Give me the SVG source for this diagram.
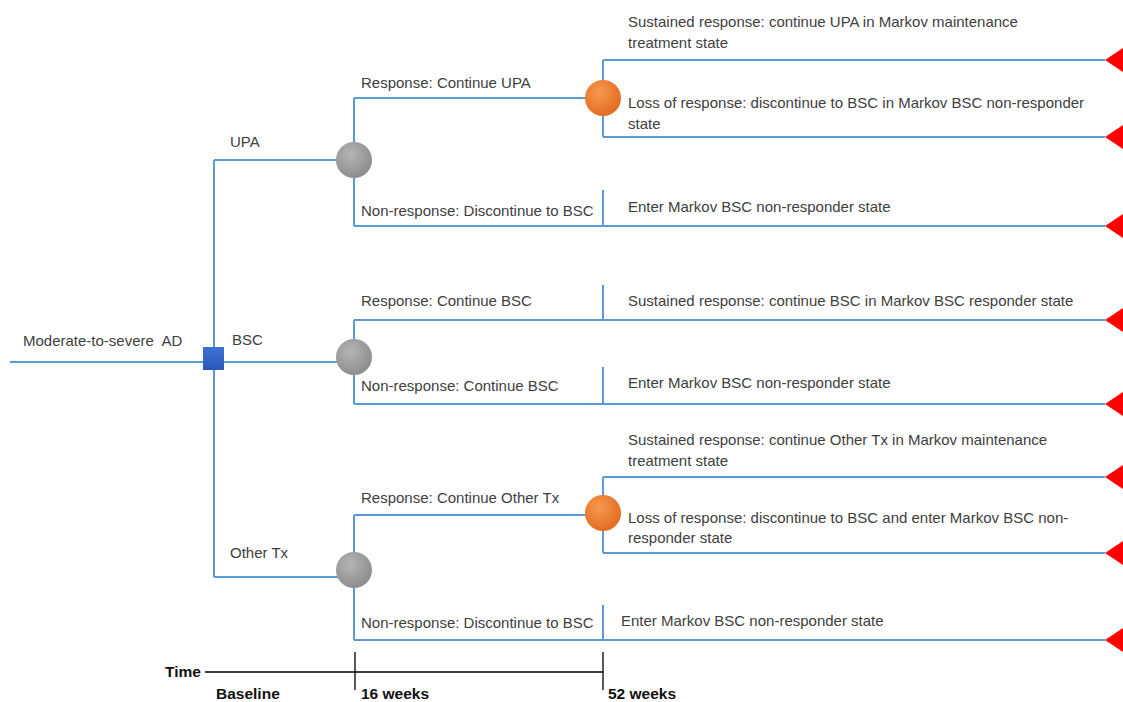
<svg xmlns="http://www.w3.org/2000/svg" width="1123" height="702" viewBox="0 0 1123 702">
<style>
.ln{stroke:#5b9bd5;stroke-width:2;fill:none}
.ax{stroke:#000;stroke-width:1.3;fill:none}
.t{font-family:"Liberation Sans",Arial,sans-serif;font-size:15px;fill:#404040}
.b{font-family:"Liberation Sans",Arial,sans-serif;font-size:15.5px;font-weight:bold;fill:#111}
.tri{fill:#ff0000}
</style>
<defs>
<radialGradient id="gg" cx="40%" cy="35%" r="70%"><stop offset="0" stop-color="#b5b5b5"/><stop offset="1" stop-color="#8a8a8a"/></radialGradient>
<radialGradient id="og" cx="40%" cy="35%" r="70%"><stop offset="0" stop-color="#f79a4e"/><stop offset="1" stop-color="#e2681f"/></radialGradient>
<linearGradient id="bg" x1="0" y1="0" x2="0" y2="1"><stop offset="0" stop-color="#3f72d6"/><stop offset="1" stop-color="#2a56b8"/></linearGradient>
</defs>
<rect width="1123" height="702" fill="#fff"/>
<g id="connectors">
<path class="ln" d="M10 362H214M214 160V577M214 160H354M214 362H354M214 577H354"/>
<path class="ln" d="M354 98V226M354 98H603M354 226H1105M603 60V137M603 60H1105M603 137H1105M603 190V226"/>
<path class="ln" d="M354 320V404M354 320H1105M354 404H1105M603 285V320M603 367V404"/>
<path class="ln" d="M354 515V640M354 515H603M354 640H1105M603 477V553M603 477H1105M603 553H1105M603 605V640"/>
</g>
<g id="root"><rect x="203" y="347" width="21" height="23" fill="url(#bg)"/><text class="t" x="23" y="346" style="white-space:pre">Moderate-to-severe  AD</text></g>
<g id="upa"><circle cx="354" cy="160" r="18" fill="url(#gg)"/><text class="t" x="230" y="147">UPA</text></g>
<g id="bsc"><circle cx="354" cy="357" r="18" fill="url(#gg)"/><text class="t" x="232" y="345">BSC</text></g>
<g id="othertx"><circle cx="354" cy="570" r="18" fill="url(#gg)"/><text class="t" x="230" y="558">Other Tx</text></g>
<g id="upa-resp"><circle cx="603" cy="98" r="18" fill="url(#og)"/><text class="t" x="361" y="88">Response: Continue UPA</text></g>
<g id="upa-nonresp"><text class="t" x="361" y="216">Non-response: Discontinue to BSC</text></g>
<g id="upa-sust"><text class="t" x="628" y="27">Sustained response: continue UPA in Markov maintenance</text><text class="t" x="628" y="48">treatment state</text><polygon class="tri" points="1105,60 1123,48 1123,72"/></g>
<g id="upa-loss"><text class="t" x="628" y="108">Loss of response: discontinue to BSC in Markov BSC non-responder</text><text class="t" x="628" y="129">state</text><polygon class="tri" points="1105,137 1123,125 1123,149"/></g>
<g id="upa-enter"><text class="t" x="628" y="212">Enter Markov BSC non-responder state</text><polygon class="tri" points="1105,226 1123,214 1123,238"/></g>
<g id="bsc-resp"><text class="t" x="361" y="306">Response: Continue BSC</text></g>
<g id="bsc-sust"><text class="t" x="628" y="306">Sustained response: continue BSC in Markov BSC responder state</text><polygon class="tri" points="1105,320 1123,308 1123,332"/></g>
<g id="bsc-nonresp"><text class="t" x="361" y="391">Non-response: Continue BSC</text></g>
<g id="bsc-enter"><text class="t" x="628" y="388">Enter Markov BSC non-responder state</text><polygon class="tri" points="1105,404 1123,392 1123,416"/></g>
<g id="ot-resp"><circle cx="603" cy="513" r="18" fill="url(#og)"/><text class="t" x="361" y="503">Response: Continue Other Tx</text></g>
<g id="ot-sust"><text class="t" x="628" y="445">Sustained response: continue Other Tx in Markov maintenance</text><text class="t" x="628" y="466">treatment state</text><polygon class="tri" points="1105,477 1123,465 1123,489"/></g>
<g id="ot-loss"><text class="t" x="628" y="523">Loss of response: discontinue to BSC and enter Markov BSC non-</text><text class="t" x="628" y="543">responder state</text><polygon class="tri" points="1105,553 1123,541 1123,565"/></g>
<g id="ot-nonresp"><text class="t" x="361" y="628">Non-response: Discontinue to BSC</text></g>
<g id="ot-enter"><text class="t" x="621" y="626">Enter Markov BSC non-responder state</text><polygon class="tri" points="1105,640 1123,628 1123,652"/></g>
<g id="timeline">
<path class="ax" d="M205 672H603M355 652V690M603 652V690"/>
<text class="b" x="165" y="677">Time</text>
<text class="b" x="216" y="699">Baseline</text>
<text class="b" x="361" y="699">16 weeks</text>
<text class="b" x="608" y="699">52 weeks</text>
</g>
</svg>
